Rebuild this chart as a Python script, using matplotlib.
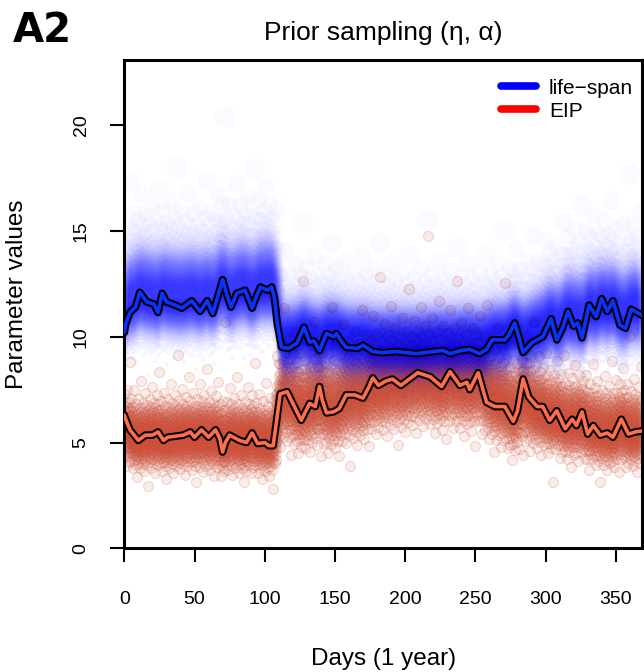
import math
import numpy as np
import matplotlib
matplotlib.use("Agg")
import matplotlib.pyplot as plt
from matplotlib.lines import Line2D

# ---- daily summary lines (day, value) ----
lifespan_days = [0, 1, 4, 8, 11, 16, 21, 24, 27, 30, 36, 41, 48, 54, 59, 63, 67, 70, 73, 76,
                 80, 86, 91, 94, 97, 102, 105, 107, 109, 112, 117, 123, 128, 132, 135, 139,
                 144, 149, 151, 155, 158, 166, 170, 177, 183, 194, 208, 220, 227, 232, 240,
                 246, 253, 258, 262, 271, 274, 278, 281, 284, 290, 298, 304, 308, 312, 316,
                 320, 323, 326, 331, 336, 340, 344, 348, 353, 357, 361, 365, 369]
lifespan_vals = [10.2, 10.6, 11.15, 11.4, 12.1, 11.65, 11.55, 11.15, 12.05, 11.65, 11.5, 11.35,
                 11.7, 11.2, 11.7, 11.1, 12.0, 12.7, 12.0, 11.4, 12.05, 12.2, 11.35, 11.9, 12.35,
                 12.2, 12.35, 11.8, 10.6, 9.5, 9.45, 9.7, 10.45, 9.75, 9.8, 9.35, 10.15, 10.0,
                 10.15, 9.75, 9.5, 9.45, 9.6, 9.3, 9.25, 9.3, 9.2, 9.3, 9.35, 9.2, 9.35, 9.4,
                 9.2, 9.4, 9.85, 9.85, 10.1, 10.65, 10.0, 9.25, 9.7, 10.0, 10.85, 9.85, 10.4,
                 11.2, 10.5, 10.65, 9.95, 11.5, 10.95, 11.8, 11.2, 11.7, 10.55, 10.4, 11.3,
                 11.15, 11.0]

eip_days = [0, 1, 4, 10, 15, 20, 24, 28, 31, 42, 47, 50, 55, 60, 65, 68, 70, 72, 75, 82, 87,
            91, 95, 100, 103, 106, 108, 111, 116, 120, 126, 132, 136, 139, 141, 144, 149, 153,
            158, 164, 170, 174, 177, 181, 186, 191, 197, 209, 218, 226, 232, 239, 244, 246,
            252, 258, 264, 271, 277, 280, 284, 288, 294, 298, 303, 308, 314, 319, 322, 326,
            330, 334, 339, 344, 348, 354, 359, 364, 369]
eip_vals = [6.3, 6.1, 5.6, 5.1, 5.35, 5.35, 5.5, 5.1, 5.25, 5.35, 5.5, 5.25, 5.6, 5.25, 5.6,
            5.2, 4.55, 5.0, 5.35, 5.1, 5.0, 5.45, 4.95, 5.0, 4.85, 4.85, 5.8, 7.3, 7.4, 6.85,
            6.05, 6.85, 6.7, 7.65, 7.0, 6.4, 6.45, 6.6, 7.25, 7.25, 7.1, 7.6, 8.05, 7.7, 7.9,
            8.0, 7.7, 8.3, 8.1, 7.65, 8.35, 7.7, 7.85, 7.5, 8.3, 6.9, 6.7, 6.7, 6.0, 6.5, 8.0,
            7.15, 6.7, 6.7, 6.05, 6.5, 5.65, 6.1, 5.8, 6.45, 5.4, 5.8, 5.35, 5.45, 5.25, 6.1,
            5.4, 5.5, 5.55]

# ---- prior sample clouds ----
# smooth cloud centre over the year
lifespan_center_days = [0, 50, 109, 112, 200, 270, 290, 330, 369]
lifespan_center_vals = [11.5, 11.6, 12.0, 9.6, 9.4, 9.5, 10.0, 10.9, 11.1]
eip_center_days = [0, 107, 110, 150, 200, 255, 275, 300, 340, 369]
eip_center_vals = [5.3, 5.2, 7.0, 7.0, 7.8, 7.8, 6.9, 6.4, 5.7, 5.6]

# spread at knot days: [shift, sd below, sd above, extra upper-tail weight]
lifespan_spread_days = [0, 109, 113, 280, 320, 369]
lifespan_spread = [
    [0.15, 0.95, 1.25, 0.5],
    [0.15, 0.95, 1.25, 0.5],
    [0.15, 0.78, 0.95, 0.45],
    [0.15, 0.78, 0.95, 0.45],
    [0.10, 0.95, 1.15, 0.5],
    [0.10, 0.95, 1.15, 0.5],
]
eip_spread_days = [0, 107, 111, 285, 300, 369]
eip_spread = [
    [0.0, 0.72, 0.85, 0.5],
    [0.0, 0.72, 0.85, 0.5],
    [0.0, 0.95, 1.05, 0.9],
    [0.0, 0.95, 1.05, 0.9],
    [0.0, 0.78, 0.95, 0.45],
    [0.0, 0.78, 0.95, 0.45],
]
line_follow = 0.4          # share of the daily line wiggle carried by the cloud

lifespan_samples_per_day = 60
eip_samples_per_day = 14
n_days = 369

x_ticks = [0, 50, 100, 150, 200, 250, 300, 350]
y_ticks = [0, 5, 10, 15, 20]

legend_labels = ["life\u2212span", "EIP"]
title = "Prior sampling (\u03b7, \u03b1)"

# standard normal quantiles from a tabulated CDF
_z_grid = np.linspace(-6, 6, 4001)
_cdf_grid = 0.5 * (1 + np.array([math.erf(z / math.sqrt(2)) for z in _z_grid]))


def prior_cloud(line_days, line_vals, center_days, center_vals, knot_days, knot_spread, per_day):
    """Place per_day draws for each day from a two-piece normal around the centre."""
    days = np.arange(n_days)
    smooth = np.interp(days, center_days, center_vals)
    line = np.interp(days, line_days, line_vals)
    center = smooth + line_follow * (line - smooth)
    sp = np.asarray(knot_spread)
    shift, sd_lo, sd_hi, tail = [np.interp(days, knot_days, sp[:, j]) for j in range(4)]
    k = np.arange(per_day)
    xs, ys, cs = [], [], []
    for i, d in enumerate(days):
        # one draw per probability stratum, shifted day to day by the golden ratio
        u = (0.5 + i * 0.6180339887498949) % 1.0
        p = (k + u) / per_day
        z = np.interp(p, _cdf_grid, _z_grid)
        off = np.where(z < 0, sd_lo[i] * z, sd_hi[i] * z + tail[i] * np.maximum(z - 1.5, 0) ** 2)
        ys.append(center[i] + shift[i] + off)
        xs.append(np.full(per_day, d))
        cs.append(np.full(per_day, center[i]))
    return np.concatenate(xs), np.concatenate(ys), np.concatenate(cs)


plt.rcParams["font.family"] = ["Liberation Sans", "DejaVu Sans"]

fig = plt.figure(figsize=(6.44, 6.72), dpi=100)
W, H = 644, 672
x0, x1, y0, y1 = 124.3, 642.0, 548.3, 60.0
ax = fig.add_axes([x0 / W, 1 - y0 / H, (x1 - x0) / W, (y0 - y1) / H])

# EIP prior samples: outlined brick-red circles
rx, ry, _ = prior_cloud(eip_days, eip_vals, eip_center_days, eip_center_vals,
                        eip_spread_days, eip_spread, eip_samples_per_day)
red = (205 / 255, 79 / 255, 57 / 255)
ax.scatter(rx, ry, s=52, facecolor=red + (0.10,), edgecolor=red + (0.21,),
           linewidths=0.8, zorder=1)

# life-span prior samples: faint blue discs, larger (and fainter) for higher draws
bx, by, bc = prior_cloud(lifespan_days, lifespan_vals, lifespan_center_days,
                         lifespan_center_vals, lifespan_spread_days, lifespan_spread,
                         lifespan_samples_per_day)
bd_px = np.clip(9.0 * (by / bc) ** 2, 5, 22)
b_alpha = np.clip(0.03 * (9.0 / bd_px) ** 0.8, 0.01, 0.036)
b_rgba = np.column_stack([np.zeros_like(by), np.zeros_like(by), np.ones_like(by), b_alpha])
ax.scatter(bx, by, s=(bd_px * 0.72) ** 2, c=b_rgba, edgecolors="none", zorder=2)

# summary lines with a black casing
for d, v, c in [(lifespan_days, lifespan_vals, "#0A32FF"), (eip_days, eip_vals, "#FF6E4A")]:
    ax.plot(d, v, color="black", lw=5.5, solid_joinstyle="round", solid_capstyle="round", zorder=3)
    ax.plot(d, v, color=c, lw=2.6, solid_joinstyle="round", solid_capstyle="round", zorder=4)

ax.set_xlim(0, 368.7)
ax.set_ylim(0, 23.08)
ax.set_xticks(x_ticks)
ax.set_yticks(y_ticks)
ax.tick_params(axis="both", direction="out", length=10, width=1.5, labelsize=14)
ax.tick_params(axis="x", pad=21)
ax.tick_params(axis="y", pad=15, labelrotation=90)
for lab in ax.get_yticklabels():
    lab.set_verticalalignment("center")
for spine in ax.spines.values():
    spine.set_linewidth(2.2)

ax.set_xlabel("Days (1 year)", fontsize=17.5)
ax.xaxis.label.set_verticalalignment("center")
ax.xaxis.set_label_coords(0.5, (y0 - 659) / (y0 - y1))
ax.set_ylabel("Parameter values", fontsize=17.5)
ax.yaxis.label.set_verticalalignment("center")
ax.yaxis.set_label_coords((17 - x0) / (x1 - x0), 0.52)

ax.set_title(title, fontsize=19, y=(y0 - 33) / (y0 - y1), va="center", pad=0)

handles = [Line2D([], [], color="#0000FF", lw=5.5, solid_capstyle="round"),
           Line2D([], [], color="#FF0000", lw=5.5, solid_capstyle="round")]
ax.legend(handles, legend_labels, loc="upper right", bbox_to_anchor=(0.9826, 0.962),
          frameon=False, fontsize=15, handlelength=1.7, handletextpad=0.6,
          labelspacing=0.2, borderpad=0, borderaxespad=0)

fig.text(42 / W, 1 - 31 / H, "A2", fontsize=29, fontweight="bold", family="DejaVu Sans",
         ha="center", va="center")

fig.savefig("out.png", dpi=100)
